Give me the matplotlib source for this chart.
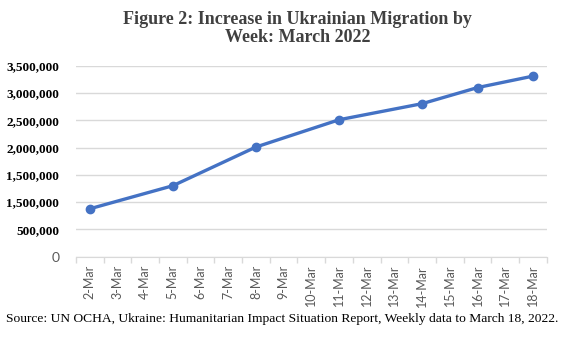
import matplotlib
matplotlib.use('Agg')
import matplotlib.pyplot as plt
from matplotlib.ticker import FixedLocator

# data (day of March -> people)
days = list(range(2, 19))
day_labels = ['{}-Mar'.format(d) for d in days]
obs_days = [2, 5, 8, 11, 14, 16, 18]
migrants = [877000, 1300000, 2010000, 2510000, 2805000, 3100000, 3310000]

y_ticks = [0, 500000, 1000000, 1500000, 2000000, 2500000, 3000000, 3500000]
# labels exactly as printed in the figure (second one is duplicated there)
y_labels = ['0', '500,000', '1,500,000', '1,500,000', '2,000,000',
            '2,500,000', '3,000,000', '3,500,000']

title = 'Figure 2: Increase in Ukrainian Migration by\nWeek: March 2022'
source = ('Source: UN OCHA, Ukraine: Humanitarian Impact Situation Report, '
          'Weekly data to March 18, 2022.')

BLUE = '#4472C4'
GRID = '#D9D9D9'
LABEL_GRAY = '#595959'

fig = plt.figure(figsize=(5.62, 3.39), dpi=100)
ax = fig.add_axes([0.135, 0.243, 0.838, 0.563])

ax.plot(obs_days, migrants, color=BLUE, lw=2.4, marker='o', ms=6,
        solid_capstyle='round', zorder=3)

ax.set_xlim(1.5, 18.5)
ax.set_ylim(0, 3500000)

# y axis: gridlines, no spine
ax.set_yticks(y_ticks)
ax.set_yticklabels(y_labels)
ax.yaxis.grid(True, color=GRID, lw=1)
ax.tick_params(axis='y', length=0, pad=12)
for lab in ax.get_yticklabels():
    if lab.get_text() == '0':
        lab.set_family('Lato')
        lab.set_fontsize(10)
        lab.set_color(LABEL_GRAY)
    else:
        lab.set_family('Liberation Serif')
        lab.set_fontweight('bold')
        lab.set_fontsize(9.5)
        lab.set_color('black')

# x axis: category labels at centres, tick marks between categories
ax.set_xticks(days)
ax.set_xticklabels(day_labels, rotation=90, family='Lato', fontsize=9,
                   color=LABEL_GRAY)
ax.xaxis.set_minor_locator(FixedLocator([d + 0.5 for d in range(1, 19)]))
ax.tick_params(axis='x', which='major', length=0, pad=6)
ax.tick_params(axis='x', which='minor', length=4, color=GRID, width=1)

for side in ['top', 'right', 'left']:
    ax.spines[side].set_visible(False)
ax.spines['bottom'].set_color(GRID)
ax.set_axisbelow(True)

fig.text(0.53, 0.968, title, ha='center', va='top', family='Liberation Serif',
         fontweight='bold', fontsize=13, color='#404040', linespacing=1.1)
fig.text(0.01, 0.058, source, ha='left', va='center', family='Liberation Serif',
         fontsize=9.7, color='black')

fig.savefig('out.png', dpi=100)
